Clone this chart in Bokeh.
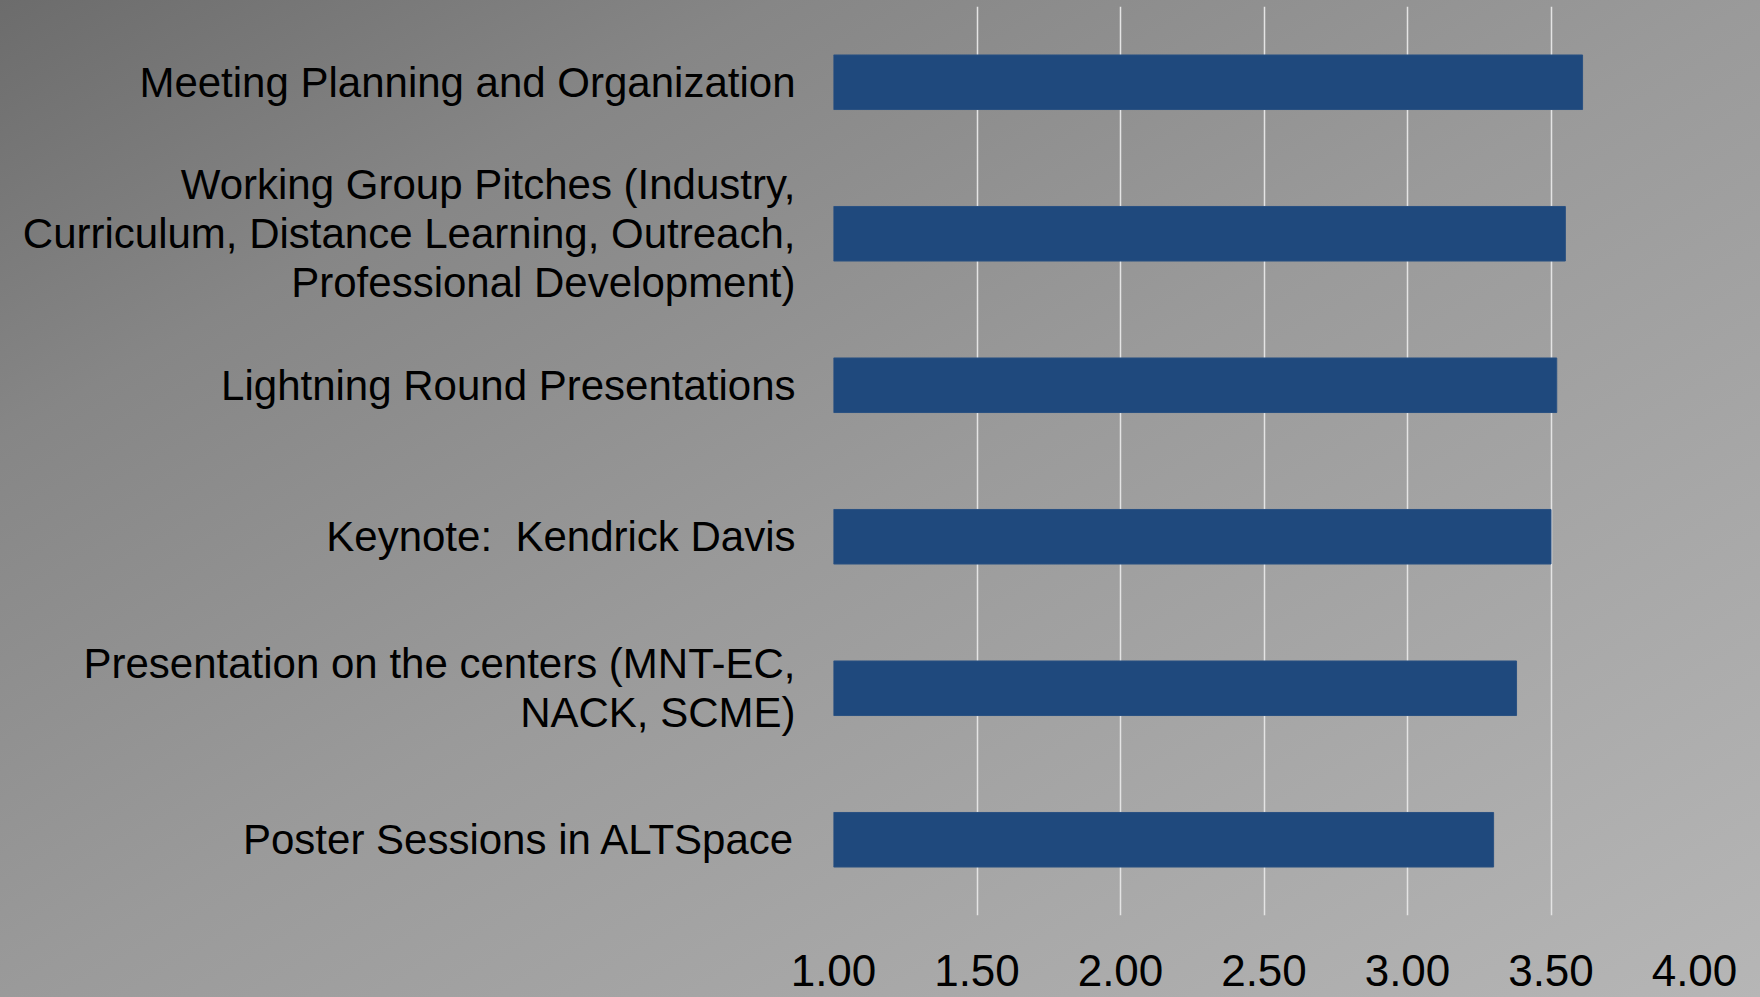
from bokeh.plotting import figure
from bokeh.models import FactorRange, Range1d, FixedTicker, NumeralTickFormatter, GlobalInlineStyleSheet
from bokeh.embed import file_html
from bokeh.resources import INLINE

# Data (top to bottom as shown in the chart)
categories = [
    "Meeting Planning and Organization",
    "Working Group Pitches (Industry,\nCurriculum, Distance Learning, Outreach,\nProfessional Development)",
    "Lightning Round Presentations",
    "Keynote:\u00a0 Kendrick Davis",
    "Presentation on the centers (MNT-EC,\nNACK, SCME)",
    "Poster Sessions in ALTSpace",
]
scores = [3.61, 3.55, 3.52, 3.50, 3.38, 3.30]
x_ticks = [1.0, 1.5, 2.0, 2.5, 3.0, 3.5, 4.0]

W, H = 1760, 997

css = GlobalInlineStyleSheet(css="""
html, body { margin: 0; padding: 0; overflow: hidden; }
body { background: linear-gradient(to bottom right, #6c6c6c 0%, #868686 22%, #9a9a9a 50%, #a8a8a8 75%, #b6b6b6 100%); }
""")

p = figure(
    width=W, height=H,
    y_range=FactorRange(factors=list(reversed(categories)), range_padding=0),
    x_range=Range1d(1.0, 4.0),
    output_backend="svg", toolbar_location=None,
    min_border_left=833, min_border_right=66, min_border_top=6, min_border_bottom=82,
)
p.stylesheets = [css]
p.background_fill_color = None
p.border_fill_color = None
p.outline_line_color = None

p.hbar(y=categories, right=scores, left=1.0, height=0.36,
       fill_color="#1f497d", line_color="#2a5182", line_width=1)

# x axis
p.xaxis.ticker = FixedTicker(ticks=x_ticks)
p.xaxis.formatter = NumeralTickFormatter(format="0.00")
p.xaxis.axis_line_color = None
p.xaxis.major_tick_line_color = None
p.xaxis.minor_tick_line_color = None
p.xaxis.major_tick_out = 0
p.xaxis.major_tick_in = 0
p.xaxis.major_label_standoff = 39
p.xaxis.major_label_text_font = "Liberation Sans"
p.xaxis.major_label_text_font_size = "44px"
p.xaxis.major_label_text_color = "#000000"

# y axis
p.yaxis.axis_line_color = None
p.yaxis.major_tick_line_color = None
p.yaxis.minor_tick_line_color = None
p.yaxis.major_tick_out = 0
p.yaxis.major_tick_in = 0
p.yaxis.major_label_standoff = 38
p.yaxis.major_label_text_font = "Liberation Sans"
p.yaxis.major_label_text_font_size = "42px"
p.yaxis.major_label_text_color = "#000000"
p.yaxis.major_label_text_line_height = 1.04
p.yaxis.major_label_text_align = "center"

# grid
p.xgrid.grid_line_color = "#e4e4e4"
p.xgrid.grid_line_width = 1.5
p.ygrid.grid_line_color = None

open("out.html", "w").write(file_html(p, INLINE))
